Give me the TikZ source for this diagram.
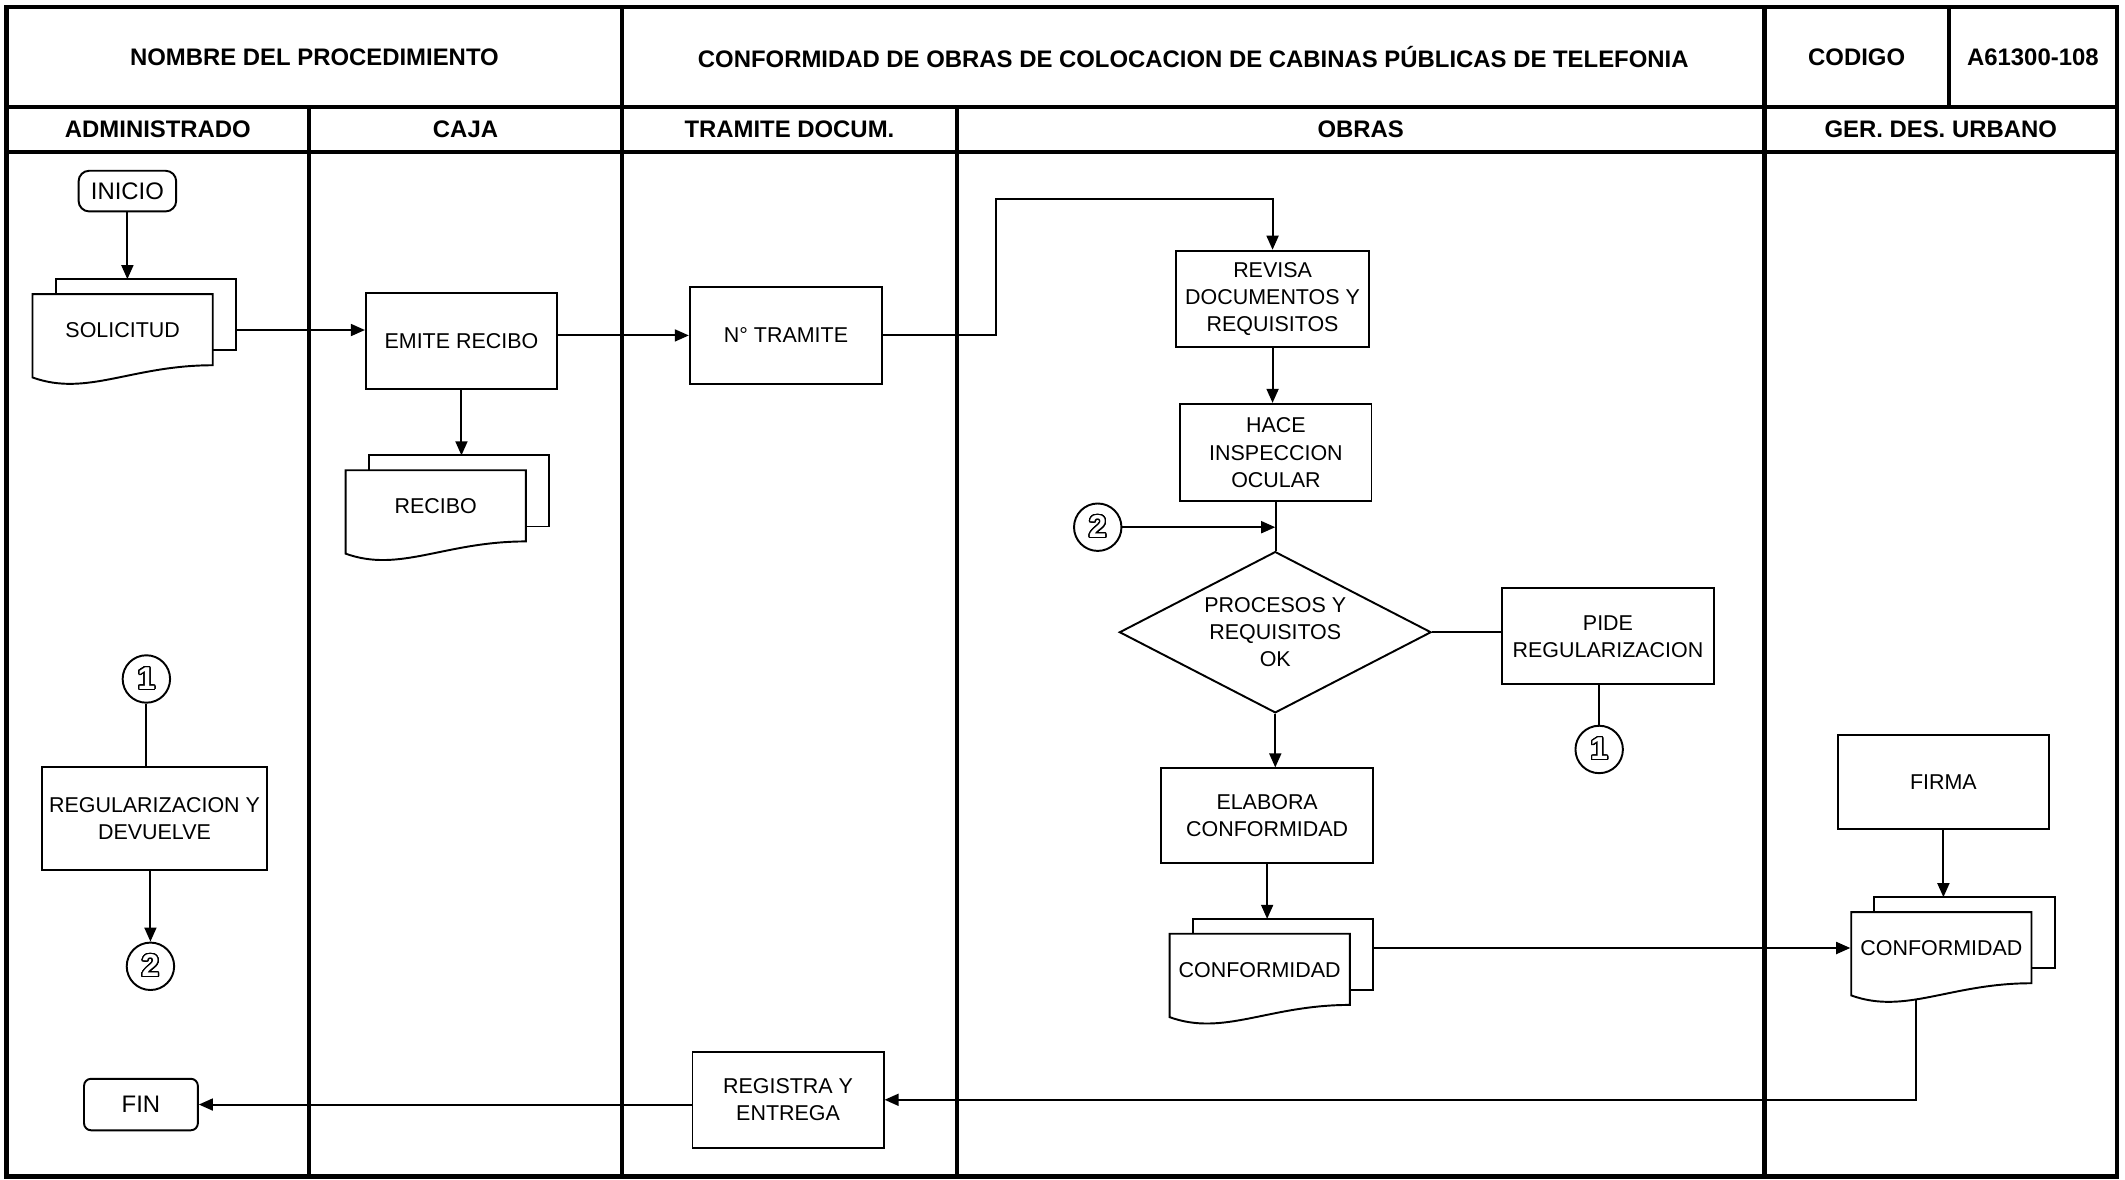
\documentclass[tikz,border=0pt]{standalone}
\usepackage{fontspec}
\setmainfont{Liberation Sans}
\usepackage{tikz}
\usepackage{contour}
\usetikzlibrary{positioning, calc, arrows.meta, shapes.geometric}

\def\pxu{0.013552cm}
\contourlength{0.35pt}
\contournumber{32}
\newcommand{\hollow}[1]{\contour{black}{\textcolor{white}{#1}}}

\tikzset{
  lane/.style={line width=1.3pt},
  head/.style={font=\bfseries\fontsize{6.8}{8}\selectfont, inner sep=0pt},
  proc/.style={draw, fill=white, line width=0.55pt, align=center, inner sep=0pt, font=\fontsize{6.1}{7.7}\selectfont},
  decision/.style={draw, fill=white, diamond, aspect=1.93, line width=0.55pt, inner sep=0pt, minimum width=230*\pxu, minimum height=119*\pxu, align=center, font=\fontsize{6.1}{7.7}\selectfont},
  doctext/.style={inner sep=0pt, minimum width=133*\pxu, minimum height=53*\pxu, align=center, font=\fontsize{6.1}{7.7}\selectfont},
  conn/.style={draw, fill=white, circle, line width=0.55pt, minimum size=35*\pxu, inner sep=0pt, font=\bfseries\fontsize{9}{9}\selectfont},
}

% stacked documents: name, left, top, text
\newcommand{\multidoc}[4]{%
  \filldraw[fill=white, line width=0.55pt] (#2+17,#3-11) rectangle (#2+150,#3+41.5);
  \filldraw[fill=white, line width=0.55pt] (#2,#3) -- (#2+133,#3) -- (#2+133,#3+52.5)
    .. controls (#2+73,#3+52.5) and (#2+40,#3+76) .. (#2,#3+61.5) -- cycle;
  \node[doctext] (#1) at (#2+66.5,#3+26.5) {#4};
  \coordinate (#1-bk) at (#2+85,#3-11);
  \coordinate (#1-bkr) at (#2+150,#3+20);
  \coordinate (#1-bot) at (#2+48,#3+65);
}

\begin{document}
\begin{tikzpicture}[x=0.013552cm, y=-0.013552cm, >={Triangle[length=4pt, width=3.4pt]}, line width=0.55pt]
    \fill[white] (0,0) rectangle (1568,870);
    \useasboundingbox (0,0) rectangle (1568,870);

    % Table
    \draw[lane] (5,5) rectangle (1562,868);
    \draw[lane] (5,79) -- (1562,79);
    \draw[lane] (5,112) -- (1562,112);
    \draw[lane] (228,79) -- (228,868);
    \draw[lane] (459,5) -- (459,868);
    \draw[lane] (706,79) -- (706,868);
    \draw[lane] (1302,5) -- (1302,868);
    \draw[lane] (1438,5) -- (1438,79);

    % Header
    \node[head] (hnombre) at (232,42) {NOMBRE DEL PROCEDIMIENTO};
    \node[head] (htitulo) at (880.5,42) {CONFORMIDAD DE OBRAS DE COLOCACION DE CABINAS PÚBLICAS DE TELEFONIA};
    \node[head] (hcodigo) at (1370,42) {CODIGO};
    \node[head] (hnumero) at (1500,42) {A61300-108};
    \node[head] (hadmin) at (116.5,95.5) {ADMINISTRADO};
    \node[head] (hcaja) at (343.5,95.5) {CAJA};
    \node[head] (htramite) at (582.5,95.5) {TRAMITE DOCUM.};
    \node[head] (hobras) at (1004,95.5) {OBRAS};
    \node[head] (hgerencia) at (1432,95.5) {GER. DES. URBANO};

    % Documents
    \multidoc{solicitud}{24}{217}{SOLICITUD}
    \multidoc{recibo}{255}{347}{RECIBO}
    \multidoc{conf1}{863}{689}{CONFORMIDAD}
    \multidoc{conf2}{1366}{673}{CONFORMIDAD}

    % Steps
    \node[proc, rounded corners=3pt, minimum width=72*\pxu, minimum height=30*\pxu, font=\fontsize{6.8}{8}\selectfont] (inicio) at (94,141) {INICIO};
    \node[proc, minimum width=141*\pxu, minimum height=71*\pxu] (emite) at (340.5,251.5) {EMITE RECIBO};
    \node[proc, minimum width=142*\pxu, minimum height=71*\pxu] (tramite) at (580,247.5) {N° TRAMITE};
    \node[proc, minimum width=142*\pxu, minimum height=71*\pxu] (revisa) at (939,220.5) {REVISA\\DOCUMENTOS Y\\REQUISITOS};
    \node[proc, minimum width=141*\pxu, minimum height=72*\pxu] (hace) at (941.5,334) {HACE\\INSPECCION\\OCULAR};
    \node[decision] (check) at (941,466.5) {PROCESOS Y\\REQUISITOS\\OK};
    \node[proc, minimum width=157*\pxu, minimum height=71*\pxu] (pide) at (1186.5,469.5) {PIDE\\REGULARIZACION};
    \node[proc, minimum width=156*\pxu, minimum height=70*\pxu] (elabora) at (935,602) {ELABORA\\CONFORMIDAD};
    \node[proc, minimum width=156*\pxu, minimum height=70*\pxu] (firma) at (1434,577) {FIRMA};
    \node[proc, minimum width=141*\pxu, minimum height=71*\pxu] (registra) at (581.5,811.5) {REGISTRA Y\\ENTREGA};
    \node[proc, minimum width=166*\pxu, minimum height=76*\pxu] (regul) at (114,604) {REGULARIZACION Y\\DEVUELVE};
    \node[proc, rounded corners=2pt, minimum width=84*\pxu, minimum height=38*\pxu, font=\fontsize{6.8}{8}\selectfont] (fin) at (104,815) {FIN};

    % Connectors
    \node[conn] (c1a) at (108,501) {\hollow{1}};
    \node[conn] (c2a) at (111,713) {\hollow{2}};
    \node[conn] (c2b) at (810,389) {\hollow{2}};
    \node[conn] (c1b) at (1180,553) {\hollow{1}};
    \coordinate (subida) at (735,147);

    % Flow
    \draw[->] (inicio) -- (inicio |- solicitud-bk);
    \draw[->] (solicitud-bkr |- solicitud) -- (emite.west |- solicitud);
    \draw[->] (emite) -- (emite |- recibo-bk);
    \draw[->] (emite.east |- tramite) -- (tramite.west);
    \draw[->] (tramite.east) -| (subida) -| (revisa.north);
    \draw[->] (revisa) -- (revisa |- hace.north);
    \draw (hace) -- (hace |- check.north);
    \draw[->] (c2b) -- (c2b -| check.north);
    \draw (check.east) -- (pide.west |- check.east);
    \draw (pide.south -| c1b) -- (c1b);
    \draw[->] (check.south) -- (check.south |- elabora.north);
    \draw[->] (elabora) -- (elabora |- conf1-bk);
    \draw[->] (conf1-bkr |- conf2) -- (conf2.west);
    \draw[->] (firma) -- (firma |- conf2-bk);
    \draw[->] (conf2-bot) |- (registra.east);
    \draw[->] (registra.west |- fin) -- (fin.east);
    \draw (c1a) -- (c1a |- regul.north);
    \draw[->] (regul.south -| c2a) -- (c2a);

\end{tikzpicture}
\end{document}
